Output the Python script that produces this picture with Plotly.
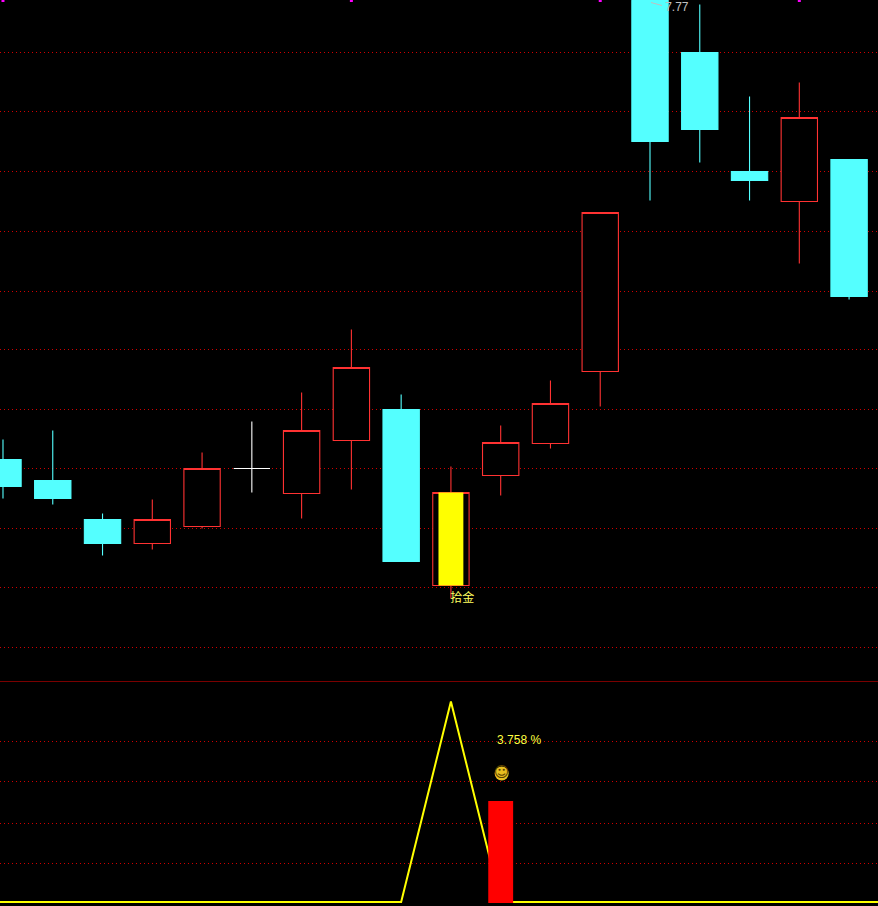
import plotly.graph_objects as go

BG = "#000000"; CYAN = "#54ffff"; RED = "#ff3232"; WHITE = "#ffffff"; YELLOW = "#ffff00"
W, H = 878, 906
SPLIT = 225  # lower panel height

# top panel prices (arbitrary unit)
cyan_x = [0, 1, 2, 8, 13, 14, 15, 17]
cyan_open = [222, 201, 162, 272, 681, 629, 510, 522]
cyan_close = [195, 183, 138, 120, 540, 552, 501, 385]
cyan_high = [242, 251, 168, 287, 685, 677, 585, 522]
cyan_low = [183, 177, 126, 120, 481, 519, 481, 382]

red_x = [3, 4, 6, 7, 9, 10, 11, 12, 16]
red_open = [138, 155, 188, 241, 96, 206, 238, 310, 480]
red_close = [162, 213, 251, 314, 189, 239, 278, 469, 564]
red_high = [182, 229, 289, 352, 215, 256, 301, 469, 599]
red_low = [132, 153, 163, 192, 83, 186, 233, 275, 418]

doji_x = [5]; doji_open = [213]; doji_close = [213]; doji_high = [260]; doji_low = [189]

signal_x = [9]; signal_base = [96]; signal_top = [189]
marker_x = [0, 7, 12, 16]
price_grid = [629, 570, 510, 450, 390, 332, 272, 213, 153, 94, 34]

# lower panel
line_x = list(range(-1, 19))
line_y = [4.5, 4.5, 4.5, 4.5, 4.5, 4.5, 4.5, 4.5, 4.5, 4.5, 205, 4.5, 4.5, 4.5, 4.5, 4.5, 4.5, 4.5, 4.5, 4.5]
ind_x = [10]; ind_base = [3.5]; ind_top = [105.5]
ind_grid = [165, 125, 83, 43]

fig = go.Figure()


def candle(x, o, h, l, c, col, fill):
    side = dict(line=dict(color=col, width=1.1), fillcolor=fill)
    fig.add_trace(go.Candlestick(x=x, open=o, high=h, low=l, close=c, increasing=side,
                                 decreasing=side, whiskerwidth=0, xaxis="x", yaxis="y",
                                 showlegend=False, hoverinfo="skip"))


candle(cyan_x, cyan_open, cyan_high, cyan_low, cyan_close, CYAN, CYAN)
candle(red_x, red_open, red_high, red_low, red_close, RED, BG)
candle(doji_x, doji_open, doji_high, doji_low, doji_close, WHITE, WHITE)

fig.add_trace(go.Bar(x=signal_x, y=[t - b for t, b in zip(signal_top, signal_base)], base=signal_base,
                     width=0.5, marker=dict(color=YELLOW, line_width=0), xaxis="x", yaxis="y3",
                     showlegend=False, hoverinfo="skip"))
fig.add_trace(go.Scatter(x=marker_x, y=[681] * len(marker_x), mode="markers", xaxis="x", yaxis="y3",
                         marker=dict(symbol="square", size=3, color="#ff00ff", line_width=0),
                         showlegend=False, hoverinfo="skip"))
# high price label with leader
fig.add_trace(go.Scatter(x=[13.02, 13.24], y=[679, 676], mode="lines", xaxis="x", yaxis="y3",
                         line=dict(color="#c0c0c0", width=1), showlegend=False, hoverinfo="skip"))
fig.add_trace(go.Scatter(x=[9.23], y=[83], mode="text", xaxis="x", yaxis="y3", text=["拾金"],
                         textposition="middle center", showlegend=False, hoverinfo="skip",
                         textfont=dict(family="Noto Sans CJK SC", size=12, color="#ffff60")))
fig.add_trace(go.Scatter(x=[13.54], y=[674], mode="text", xaxis="x", yaxis="y3", text=["7.77"],
                         textposition="middle center", showlegend=False, hoverinfo="skip",
                         textfont=dict(family="Liberation Sans", size=12, color="#c0c0c0")))

fig.add_trace(go.Scatter(x=line_x, y=line_y, mode="lines", line=dict(color=YELLOW, width=2),
                         xaxis="x", yaxis="y2", showlegend=False, hoverinfo="skip"))
fig.add_trace(go.Bar(x=ind_x, y=[t - b for t, b in zip(ind_top, ind_base)], base=ind_base, width=0.5,
                     marker=dict(color="#ff0000", line_width=0), xaxis="x", yaxis="y4",
                     showlegend=False, hoverinfo="skip"))
fig.add_trace(go.Scatter(x=[10.37], y=[166], mode="text", xaxis="x", yaxis="y4", text=["3.758 %"],
                         textposition="middle center", showlegend=False, hoverinfo="skip",
                         textfont=dict(family="Liberation Sans", size=12, color="#ffff40")))
fig.add_trace(go.Scatter(x=[10.02], y=[133], mode="markers+text", xaxis="x", yaxis="y4", text=["☺"],
                         textposition="middle center", showlegend=False, hoverinfo="skip",
                         marker=dict(symbol="circle", size=14, color="#e8c020", line_width=0),
                         textfont=dict(family="DejaVu Sans", size=15, color="#5a4000")))

hidden = dict(showticklabels=False, ticks="", showline=False, zeroline=False, fixedrange=True)
grid = dict(showgrid=True, gridcolor="#d00000", griddash="1px,3px", gridwidth=1)
fig.update_layout(
    width=W, height=H, margin=dict(l=0, r=0, t=0, b=0), autosize=False,
    paper_bgcolor=BG, plot_bgcolor=BG, showlegend=False, barmode="overlay",
    boxgap=0.27, boxgroupgap=0, boxmode="overlay",
    xaxis=dict(range=[-0.06, 17.581], showgrid=False, rangeslider=dict(visible=False), **hidden),
    yaxis=dict(domain=[SPLIT / H, 1], range=[0.5, 681.5], tickmode="array", tickvals=price_grid, **grid, **hidden),
    yaxis2=dict(domain=[0, SPLIT / H], range=[0.5, SPLIT + 0.5], tickmode="array", tickvals=ind_grid, **grid, **hidden),
    yaxis3=dict(overlaying="y", range=[0.5, 681.5], showgrid=False, **hidden),
    yaxis4=dict(overlaying="y2", range=[0.5, SPLIT + 0.5], showgrid=False, **hidden),
    shapes=[dict(type="line", xref="paper", x0=0, x1=1, yref="paper", y0=(SPLIT - 0.5) / H, y1=(SPLIT - 0.5) / H,
                 line=dict(color="#7a0000", width=1))],
)
fig.write_html("out.html", config=dict(displayModeBar=False),
               post_script="document.body.style.margin='0';document.documentElement.style.background='#000';document.body.style.overflow='hidden';")
